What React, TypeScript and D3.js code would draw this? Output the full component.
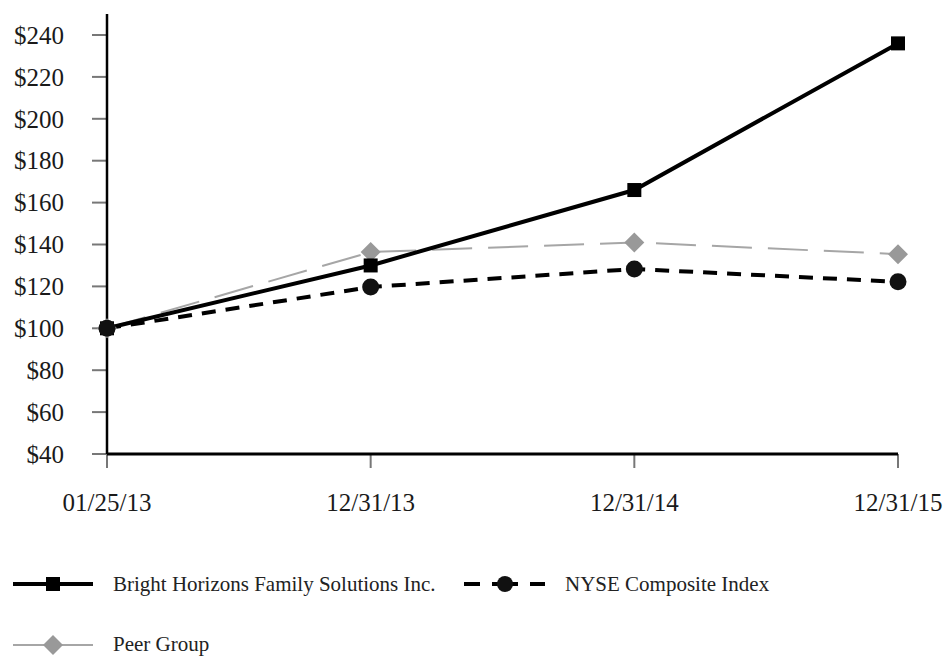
import React from "react";
import * as d3 from "d3";

const dates = ["01/25/13", "12/31/13", "12/31/14", "12/31/15"];
const brightHorizons = [100, 130, 166, 236];
const nyseComposite = [100, 119.7, 128.3, 122.2];
const peerGroup = [100, 136.4, 141, 135.4];
const yTicks = [40, 60, 80, 100, 120, 140, 160, 180, 200, 220, 240];
const legendLabels = ["Bright Horizons Family Solutions Inc.", "NYSE Composite Index", "Peer Group"];

const W = 949;
const H = 657;
const FONT = "'Liberation Serif', 'Times New Roman', serif";

export default function App() {
  const x = d3.scalePoint<string>().domain(dates).range([107, 898]);
  const y = d3.scaleLinear().domain([40, 240]).range([454, 35]);
  const line = d3
    .line<number>()
    .x((_, i) => x(dates[i]) as number)
    .y((d) => y(d));

  const diamond = (cx: number, cy: number, r: number) =>
    `M${cx},${cy - r}L${cx + r},${cy}L${cx},${cy + r}L${cx - r},${cy}Z`;

  const x0 = x(dates[0]) as number;
  const x1 = x(dates[dates.length - 1]) as number;

  return (
    <svg
      width={W}
      height={H}
      style={{ position: "absolute", left: 0, top: 0, background: "#fff" }}
      fontFamily={FONT}
    >
      {/* y ticks */}
      {yTicks.map((t) => (
        <g key={t}>
          <line x1={92} x2={x0} y1={y(t)} y2={y(t)} stroke="#777" strokeWidth={2} />
          <text x={64} y={y(t)} dy="0.35em" textAnchor="end" fontSize={25} fill="#1a1a1a">
            {"$" + t}
          </text>
        </g>
      ))}
      {/* x ticks */}
      {dates.map((d) => (
        <g key={d}>
          <line x1={x(d)} x2={x(d)} y1={y(40)} y2={468} stroke="#777" strokeWidth={2} />
          <text x={x(d)} y={502} dy="0.35em" textAnchor="middle" fontSize={25} fill="#1a1a1a">
            {d}
          </text>
        </g>
      ))}
      {/* axes */}
      <line x1={x0} x2={x0} y1={y(250)} y2={y(40)} stroke="#000" strokeWidth={2.5} />
      <line x1={x0} x2={x1} y1={y(40)} y2={y(40)} stroke="#000" strokeWidth={3} />

      {/* peer group */}
      <path d={line(peerGroup) as string} fill="none" stroke="#a6a6a6" strokeWidth={2} strokeDasharray="40 16" />
      {/* bright horizons */}
      <path d={line(brightHorizons) as string} fill="none" stroke="#000" strokeWidth={4} />
      {/* NYSE */}
      <path d={line(nyseComposite) as string} fill="none" stroke="#000" strokeWidth={4} strokeDasharray="14 10" />

      {peerGroup.map((v, i) => (
        <path key={"p" + i} d={diamond(x(dates[i]) as number, y(v), 10)} fill="#999" />
      ))}
      {brightHorizons.map((v, i) => (
        <rect key={"b" + i} x={(x(dates[i]) as number) - 7} y={y(v) - 7} width={14} height={14} fill="#000" />
      ))}
      {nyseComposite.map((v, i) => (
        <circle key={"n" + i} cx={x(dates[i]) as number} cy={y(v)} r={8.5} fill="#111" />
      ))}

      {/* legend */}
      <g>
        <line x1={13} x2={93} y1={584} y2={584} stroke="#000" strokeWidth={4} />
        <rect x={46} y={577} width={14} height={14} fill="#000" />
        <text x={113} y={584} dy="0.35em" fontSize={21} fill="#222">
          {legendLabels[0]}
        </text>

        <line x1={464} x2={480} y1={584} y2={584} stroke="#000" strokeWidth={4} />
        <line x1={492} x2={518} y1={584} y2={584} stroke="#000" strokeWidth={4} />
        <line x1={530} x2={545} y1={584} y2={584} stroke="#000" strokeWidth={4} />
        <circle cx={505} cy={584} r={8} fill="#111" />
        <text x={565} y={584} dy="0.35em" fontSize={21} fill="#222">
          {legendLabels[1]}
        </text>

        <line x1={13} x2={93} y1={645} y2={645} stroke="#a6a6a6" strokeWidth={2} />
        <path d={diamond(53, 645, 10)} fill="#999" />
        <text x={113} y={645} dy="0.3em" fontSize={21} fill="#222">
          {legendLabels[2]}
        </text>
      </g>
    </svg>
  );
}
